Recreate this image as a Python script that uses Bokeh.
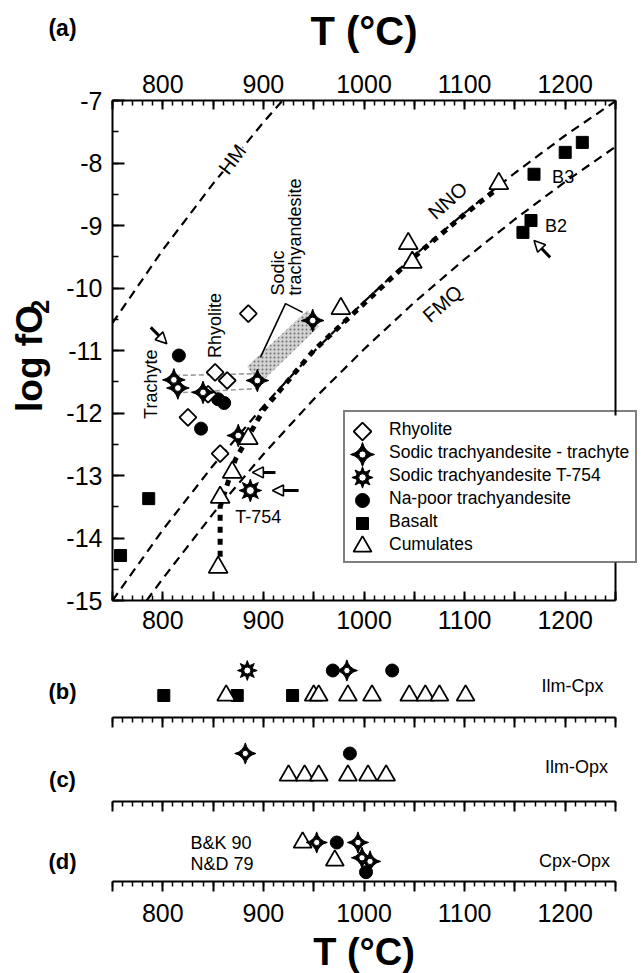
import math
from bokeh.plotting import figure
from bokeh.models import (Range1d, LinearAxis, FixedTicker, Label, Arrow, NormalHead,
                          Legend, LegendItem)
from bokeh.core.properties import value
from bokeh.layouts import column, row
from bokeh.embed import file_html
from bokeh.resources import INLINE

FONT = "Liberation Sans"

# ---------------- axis ranges / tick labels ----------------
T_MIN, T_MAX = 750, 1250
F_MIN, F_MAX = -15, -7
T_TICK_LABELS = [800, 900, 1000, 1100, 1200]
LOGFO2_TICK_LABELS = [-15, -14, -13, -12, -11, -10, -9, -8, -7]

# ---------------- buffer curves (panel a) ----------------
HM_T = [750, 800, 850, 900, 919]
HM_LOGFO2 = [-10.56, -9.39, -8.33, -7.35, -7.00]
NNO_T = [750, 800, 850, 900, 950, 1000, 1050, 1100, 1150, 1200, 1250]
NNO_LOGFO2 = [-15.0, -13.87, -12.84, -11.89, -11.02, -10.22, -9.48, -8.80, -8.16, -7.56, -7.01]
FMQ_T = [784, 800, 850, 900, 950, 1000, 1050, 1100, 1150, 1200, 1250]
FMQ_LOGFO2 = [-15.0, -14.65, -13.61, -12.66, -11.78, -10.98, -10.23, -9.54, -8.90, -8.30, -7.74]

# bold trend
TREND_T = [857, 857, 872, 900, 950, 1000, 1050, 1100, 1135]
TREND_LOGFO2 = [-14.30, -13.50, -12.75, -11.95, -11.00, -10.25, -9.50, -8.82, -8.38]

# ---------------- panel (a) samples ----------------
RHY_T = [885, 852, 864, 845, 825, 857]
RHY_F = [-10.41, -11.35, -11.48, -11.70, -12.07, -12.65]
STT_T = [811, 815, 840, 894, 949, 875]
STT_F = [-11.47, -11.60, -11.67, -11.48, -10.52, -12.36]
T754_T = [887]
T754_F = [-13.24]
NAP_T = [816, 855, 861, 838]
NAP_F = [-11.08, -11.78, -11.84, -12.25]
BAS_T = [758, 786, 1158, 1166, 1169, 1200, 1217]
BAS_F = [-14.28, -13.37, -9.11, -8.92, -8.18, -7.83, -7.67]
CUM_T = [1134, 1044, 1048, 977, 885, 869, 857, 855]
CUM_F = [-8.33, -9.29, -9.59, -10.33, -12.41, -12.95, -13.35, -14.47]

# shaded sodic trachyandesite field, grey envelope, bracket
FIELD_T = [884, 944, 955, 895]
FIELD_F = [-11.25, -10.35, -10.62, -11.55]
ENV_T = [812, 893]
ENV_UP_F = [-11.40, -11.37]
ENV_LO_F = [-11.68, -11.61]
BRACKET_T = [897, 922, 939]
BRACKET_F = [-11.11, -10.25, -10.39]

# arrows (start T, start f, end T, end f)
ARROWS_A = [(788, -10.63, 804, -10.89),
            (1185, -9.51, 1169, -9.24),
            (935, -13.24, 909, -13.24),
            (912, -12.95, 889, -12.95)]

LEGEND_LABELS = ["Rhyolite", "Sodic trachyandesite - trachyte", "Sodic trachyandesite T-754",
                 "Na-poor trachyandesite", "Basalt", "Cumulates"]

# ---------------- panels (b)-(d): rows 2 = upper, 1 = lower ----------------
B_T754_T, B_T754_ROW = [884], [2]
B_NAP_T, B_NAP_ROW = [969, 1028], [2, 2]
B_STT_T, B_STT_ROW = [983], [2]
B_BAS_T, B_BAS_ROW = [801, 874, 929], [1, 1, 1]
B_CUM_T = [863, 950, 955, 984, 1008, 1045, 1061, 1075, 1101]
B_CUM_ROW = [1, 1, 1, 1, 1, 1, 1, 1, 1]

C_STT_T, C_STT_ROW = [882], [2]
C_NAP_T, C_NAP_ROW = [986], [2]
C_CUM_T = [925, 941, 955, 984, 1004, 1022]
C_CUM_ROW = [1, 1, 1, 1, 1, 1]

D_CUM_T, D_CUM_ROW = [939, 971], [2, 1]
D_STT_T, D_STT_ROW = [953, 994, 998, 1006], [2, 2, 1.15, 0.95]
D_NAP_T, D_NAP_ROW = [973, 1002], [2, 0.35]

# ---------------- layout helpers ----------------
FR_L, FR_R = 112, 615                 # pixel x of T=750 and T=1250
K = (FR_R - FR_L) / float(T_MAX - T_MIN)   # px per degree
X0 = T_MIN - FR_L / K                 # data x at canvas px 0
X1 = T_MAX + (641 - FR_R) / K         # data x at canvas px 641
TOP_H = 55
PANEL_LABEL_X = 62


def a_x(px):
    return T_MIN + (px - FR_L) / K


def a_y(py):
    return F_MAX - (py - 100) * 8.0 / 500


def add_label(p, x, y, text, size, bold=False, angle=0.0, align="center", baseline="middle",
              bg=None):
    p.add_layout(Label(x=x, y=y, text=text, text_font=FONT, text_font_size=size,
                       text_font_style="bold" if bold else "normal", angle=angle,
                       text_align=align, text_baseline=baseline, text_color="black",
                       background_fill_color=bg))


def style_axis(ax, size, tin=0, tout=0, min_in=0, min_out=0, standoff=8):
    ax.axis_line_width = 2
    ax.axis_line_color = "black"
    ax.major_tick_line_width = 2
    ax.minor_tick_line_width = 1.5
    ax.major_tick_line_color = "black"
    ax.minor_tick_line_color = "black"
    ax.major_tick_in = tin
    ax.major_tick_out = tout
    ax.minor_tick_in = min_in
    ax.minor_tick_out = min_out
    ax.major_label_text_font = FONT
    ax.major_label_text_font_size = size
    ax.major_label_text_color = "black"
    ax.major_label_standoff = standoff


def t_ticker():
    return FixedTicker(ticks=list(range(T_MIN, T_MAX + 1, 50)),
                       minor_ticks=list(range(T_MIN, T_MAX + 1, 10)))


T_OVERRIDES = {t: (str(t) if t in T_TICK_LABELS else "") for t in range(T_MIN, T_MAX + 1, 50)}
F_OVERRIDES = {f: str(f) for f in LOGFO2_TICK_LABELS}

BLACK = dict(fill_color="black", line_color="black")


def draw_rhy(p, x, y, size=12, **kw):
    p.scatter(x, y, marker="square", angle=math.pi / 4, size=size, fill_color="white",
              line_color="black", line_width=1.8, **kw)


def draw_stt(p, x, y, size=16, **kw):
    p.scatter(x, y, marker="square_pin", angle=math.pi / 4, size=size, line_width=1, **BLACK, **kw)
    p.scatter(x, y, marker="circle", size=size * 0.42, fill_color="white", line_color="black",
              line_width=1, **kw)


def draw_t754(p, x, y, size=15, **kw):
    p.scatter(x, y, marker="square_pin", angle=0, size=size, line_width=1, **BLACK, **kw)
    p.scatter(x, y, marker="square_pin", angle=math.pi / 4, size=size, line_width=1, **BLACK, **kw)
    p.scatter(x, y, marker="circle", size=size * 0.5, fill_color="white", line_color="black",
              line_width=1, **kw)


def draw_nap(p, x, y, size=13, **kw):
    p.scatter(x, y, marker="circle", size=size, **BLACK, **kw)


def draw_bas(p, x, y, size=12, **kw):
    p.scatter(x, y, marker="square", size=size, **BLACK, **kw)


def draw_cum(p, x, y, size=19, **kw):
    p.scatter(x, y, marker="triangle", size=size, fill_color="white", line_color="black",
              line_width=1.8, **kw)


def blank_fig(width, height, xr, yr):
    p = figure(width=width, height=height, x_range=Range1d(*xr), y_range=Range1d(*yr),
               output_backend="svg", toolbar_location=None, x_axis_location=None,
               y_axis_location=None, min_border=0, min_border_left=0, min_border_right=0,
               min_border_top=0, min_border_bottom=0)
    p.grid.visible = False
    p.outline_line_color = None
    p.background_fill_color = "white"
    p.border_fill_color = "white"
    return p


# ================= top titles =================
pTop = blank_fig(641, TOP_H, (0, 641), (TOP_H, 0))
add_label(pTop, PANEL_LABEL_X, 27, "(a)", "23px", bold=True)
add_label(pTop, (FR_L + FR_R) / 2.0, 30, "T (°C)", "40px", bold=True)

# ================= y title =================
pY = blank_fig(56, 590, (0, 56), (TOP_H + 590, TOP_H))
add_label(pY, 28.5, 359.5, "log fO", "37px", bold=True, angle=math.pi / 2)
add_label(pY, 39.5, 298.5, "2", "25px", bold=True, angle=math.pi / 2)

# ================= panel (a) =================
pA = figure(width=641 - 56, height=590, x_range=Range1d(T_MIN, X1), y_range=Range1d(F_MIN, F_MAX),
            output_backend="svg", toolbar_location=None,
            min_border_left=FR_L - 56, min_border_right=0, min_border_top=100 - TOP_H,
            min_border_bottom=45)
pA.grid.visible = False
pA.outline_line_color = None
pA.background_fill_color = "white"
pA.border_fill_color = "white"

xb = pA.xaxis[0]
xb.ticker = t_ticker()
xb.bounds = (T_MIN, T_MAX)
xb.major_label_overrides = T_OVERRIDES
style_axis(xb, "25px", tin=9, min_in=5, standoff=10)

xt = LinearAxis(ticker=t_ticker(), major_label_overrides=T_OVERRIDES, bounds=(T_MIN, T_MAX))
style_axis(xt, "25px", tin=9, min_in=5, standoff=8)
pA.add_layout(xt, "above")

yl = pA.yaxis[0]
yl.ticker = FixedTicker(ticks=LOGFO2_TICK_LABELS,
                        minor_ticks=[F_MIN + 0.5 * i for i in range(17)])
yl.major_label_overrides = F_OVERRIDES
style_axis(yl, "25px", tin=12, min_in=6, standoff=10)

# right edge of the frame
pA.line([T_MAX, T_MAX], [F_MIN, F_MAX], line_color="black", line_width=2)

# buffers
for bt, bf in ((HM_T, HM_LOGFO2), (NNO_T, NNO_LOGFO2), (FMQ_T, FMQ_LOGFO2)):
    pA.line(bt, bf, line_color="black", line_width=2.2, line_dash="9 6")

# shaded field, envelope and bracket
pA.patch(FIELD_T, FIELD_F, fill_color="#d2d2d2", line_color=None,
         hatch_pattern="dot", hatch_color="#6f6f6f", hatch_scale=4, hatch_weight=1.2)
pA.line(ENV_T, ENV_UP_F, line_color="#9a9a9a", line_width=1.6, line_dash="5 3")
pA.line(ENV_T, ENV_LO_F, line_color="#9a9a9a", line_width=1.6, line_dash="5 3")
pA.line(BRACKET_T, BRACKET_F, line_color="black", line_width=1.6)

# bold trend
pA.line(TREND_T, TREND_LOGFO2, line_color="black", line_width=5, line_dash="6 6")

draw_nap(pA, NAP_T, NAP_F)
draw_bas(pA, BAS_T, BAS_F)
draw_rhy(pA, RHY_T, RHY_F)
draw_stt(pA, STT_T, STT_F)
draw_cum(pA, CUM_T, CUM_F)
draw_t754(pA, T754_T, T754_F, size=16)

for x0, y0, x1, y1 in ARROWS_A:
    pA.add_layout(Arrow(end=NormalHead(size=11, fill_color="white", line_color="black",
                                       line_width=1.6),
                        x_start=x0, y_start=y0, x_end=x1, y_end=y1,
                        line_width=3, line_color="black"))

# texts in panel (a)
add_label(pA, 869, -7.94, "HM", "20px", angle=math.radians(53), bg="white")
add_label(pA, 1083, -8.60, "NNO", "20px", angle=math.radians(42))
add_label(pA, 1078, -10.25, "FMQ", "20px", angle=math.radians(41))
add_label(pA, 1187, -8.23, "B3", "18px", align="left")
add_label(pA, 1180, -9.00, "B2", "18px", align="left")
add_label(pA, 788, -11.54, "Trachyte", "18px", angle=math.pi / 2)
add_label(pA, 852, -10.60, "Rhyolite", "18px", angle=math.pi / 2)
add_label(pA, a_x(277.5), a_y(295), "Sodic", "18px", angle=math.pi / 2, align="left")
add_label(pA, a_x(294.5), a_y(295), "trachyandesite", "18px", angle=math.pi / 2, align="left")
add_label(pA, 895, -13.67, "T-754", "18px")

# legend: white backing + symbols drawn as glyphs, box and labels by Bokeh's Legend
LEG_PAD, LEG_ROW, LEG_SP, LEG_GW = 6, 22, 1, 26
leg_h = 2 * LEG_PAD + len(LEGEND_LABELS) * LEG_ROW + (len(LEGEND_LABELS) - 1) * LEG_SP
leg_left_px, leg_bottom_px = 343, 563
leg_top_px = leg_bottom_px - leg_h
pA.quad(left=a_x(leg_left_px + 1), right=a_x(640), bottom=a_y(leg_bottom_px - 1),
        top=a_y(leg_top_px + 1), fill_color="white", line_color=None)
lx = a_x(leg_left_px + LEG_PAD + LEG_GW / 2)
ly = [a_y(leg_top_px + LEG_PAD + LEG_ROW / 2 + i * (LEG_ROW + LEG_SP)) for i in range(6)]
draw_rhy(pA, [lx], [ly[0]], size=12.5)
draw_stt(pA, [lx], [ly[1]], size=17)
draw_t754(pA, [lx], [ly[2]], size=15)
draw_nap(pA, [lx], [ly[3]], size=14)
draw_bas(pA, [lx], [ly[4]], size=12)
draw_cum(pA, [lx], [ly[5]], size=18)

dummy = pA.scatter([], [], marker="circle", size=1, fill_alpha=0, line_alpha=0)
legend = Legend(items=[LegendItem(label=value(l), renderers=[dummy]) for l in LEGEND_LABELS],
                location=(leg_left_px - FR_L, 600 - leg_bottom_px),
                label_text_font=FONT, label_text_font_size="17.5px", label_text_color="black",
                label_height=LEG_ROW, glyph_height=LEG_ROW, glyph_width=LEG_GW,
                label_standoff=12, spacing=LEG_SP, padding=LEG_PAD, margin=0,
                border_line_color="black", border_line_width=2,
                background_fill_alpha=0.0)
pA.add_layout(legend)


# ================= strips (b)-(d) =================
def strip(height, bottom, yr, show_labels):
    p = figure(width=641, height=height, x_range=Range1d(X0, X1), y_range=Range1d(*yr),
               output_backend="svg", toolbar_location=None, y_axis_location=None,
               min_border_left=0, min_border_right=0, min_border_top=0,
               min_border_bottom=bottom)
    p.grid.visible = False
    p.outline_line_color = None
    p.background_fill_color = "white"
    p.border_fill_color = "white"
    ax = p.xaxis[0]
    ax.ticker = t_ticker()
    ax.bounds = (T_MIN, T_MAX)
    if show_labels:
        ax.major_label_overrides = T_OVERRIDES
        style_axis(ax, "25px", tout=10, min_out=5, standoff=12)
    else:
        style_axis(ax, "0px", tout=10, min_out=5, standoff=0)
        ax.major_label_overrides = {t: "" for t in range(T_MIN, T_MAX + 1, 50)}
    return p


# (b)  frame 645..717
pB = strip(84, 12, (0.12, 3.0), False)
b_y = lambda py: 0.12 + (717 - py) / 25.0
draw_nap(pB, B_NAP_T, B_NAP_ROW)
draw_bas(pB, B_BAS_T, B_BAS_ROW)
draw_cum(pB, B_CUM_T, B_CUM_ROW, size=18)
draw_stt(pB, B_STT_T, B_STT_ROW, size=15)
draw_t754(pB, B_T754_T, B_T754_ROW, size=14)
add_label(pB, a_x(PANEL_LABEL_X), b_y(691), "(b)", "22px", bold=True)
add_label(pB, a_x(572), b_y(685), "Ilm-Cpx", "18px")

# (c)  frame 729..801
pC = strip(84, 12, (-0.18, 3.09), False)
c_y = lambda py: -0.18 + (801 - py) / 22.0
draw_nap(pC, C_NAP_T, C_NAP_ROW)
draw_cum(pC, C_CUM_T, C_CUM_ROW, size=18)
draw_stt(pC, C_STT_T, C_STT_ROW, size=15)
add_label(pC, a_x(PANEL_LABEL_X), c_y(779), "(c)", "22px", bold=True)
add_label(pC, a_x(576), c_y(767), "Ilm-Opx", "18px")

# (d)  frame 813..881
pD = strip(117, 49, (-0.167, 3.611), True)
d_y = lambda py: -0.167 + (881 - py) / 18.0
draw_cum(pD, D_CUM_T, D_CUM_ROW, size=18)
draw_nap(pD, D_NAP_T, D_NAP_ROW)
draw_stt(pD, D_STT_T, D_STT_ROW, size=15)
add_label(pD, a_x(PANEL_LABEL_X), d_y(861), "(d)", "22px", bold=True)
add_label(pD, a_x(190), d_y(842), "B&K 90", "18px", align="left")
add_label(pD, a_x(190), d_y(863), "N&D 79", "18px", align="left")
add_label(pD, a_x(574), d_y(860), "Cpx-Opx", "18px")

# bottom title
pE = blank_fig(641, 43, (0, 641), (973, 930))
add_label(pE, (FR_L + FR_R) / 2.0, 951, "T (°C)", "38px", bold=True)

layout = column(pTop, row(pY, pA, spacing=0), pB, pC, pD, pE, spacing=0)
open("out.html", "w").write(file_html(layout, INLINE))
